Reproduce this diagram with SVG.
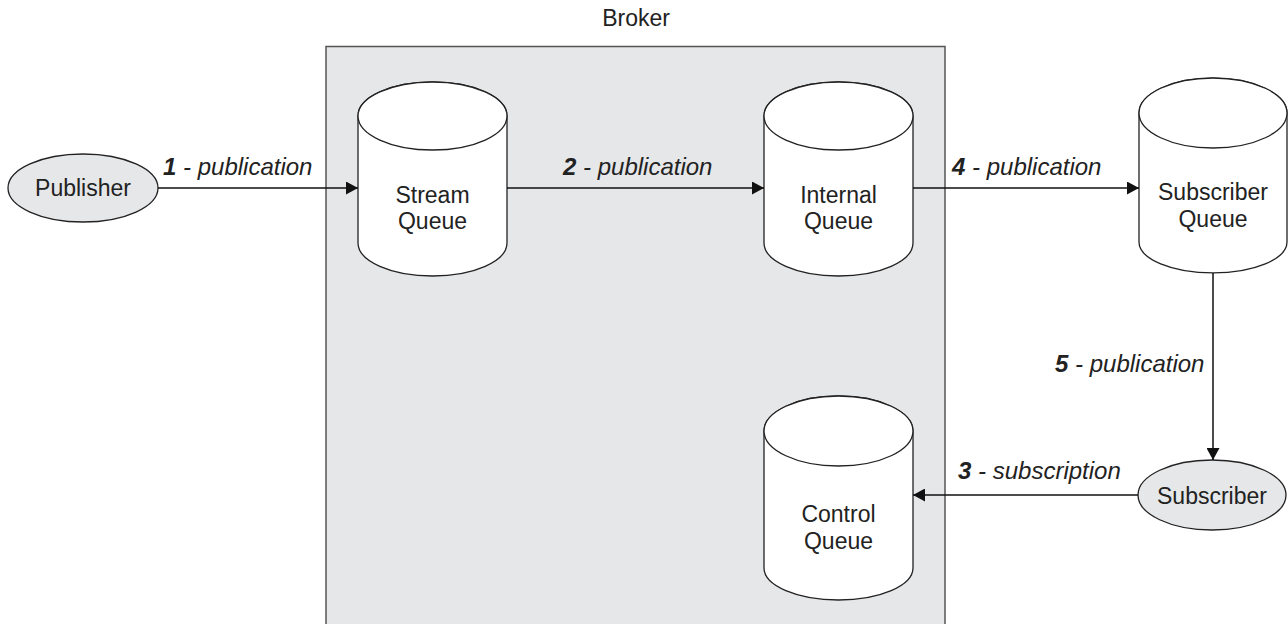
<svg xmlns="http://www.w3.org/2000/svg" width="1288" height="624" viewBox="0 0 1288 624">
<style>
text{font-family:"Liberation Sans",Arial,sans-serif;fill:#222;}
.n{font-size:23px;text-anchor:middle;}
.l{font-size:24px;font-style:italic;}
.l tspan.b{font-weight:bold;}
.cyl{fill:#fff;stroke:#222;stroke-width:1.3;}
.oval{fill:#e6e7e9;stroke:#222;stroke-width:1.3;}
.c{fill:none;stroke:#111;stroke-width:1.5;marker-end:url(#ah);}
</style>
<defs>
<marker id="ah" viewBox="0 0 12 13" refX="12" refY="6.5" markerWidth="12" markerHeight="13" markerUnits="userSpaceOnUse" orient="auto"><path d="M0,0 L12,6.5 L0,13 z" fill="#111"/></marker>
</defs>
<rect width="1288" height="624" fill="#fff"/>
<g id="broker">
<rect x="326" y="46.5" width="619" height="600" fill="#e6e7e9" stroke="#555" stroke-width="1.5"/>
<text class="n" x="636" y="26">Broker</text>
</g>
<g id="publisher">
<ellipse class="oval" cx="83" cy="188" rx="75" ry="34"/>
<text class="n" x="83" y="196">Publisher</text>
</g>
<g id="stream-queue">
<path class="cyl" d="M358,116 L358,243 A74.5,33 0 0 0 507,243 L507,116 A74.5,34 0 0 0 358,116 Z"/>
<ellipse class="cyl" cx="432.5" cy="116" rx="74.5" ry="34"/>
<text class="n" x="432.5" y="203">Stream</text>
<text class="n" x="432.5" y="229">Queue</text>
</g>
<g id="internal-queue">
<path class="cyl" d="M764,116 L764,243 A74.5,33 0 0 0 913,243 L913,116 A74.5,34 0 0 0 764,116 Z"/>
<ellipse class="cyl" cx="838.5" cy="116" rx="74.5" ry="34"/>
<text class="n" x="838.5" y="203">Internal</text>
<text class="n" x="838.5" y="229">Queue</text>
</g>
<g id="subscriber-queue">
<path class="cyl" d="M1139,113 L1139,242 A74,31 0 0 0 1287,242 L1287,113 A74,35 0 0 0 1139,113 Z"/>
<ellipse class="cyl" cx="1213" cy="113" rx="74" ry="35"/>
<text class="n" x="1213" y="200">Subscriber</text>
<text class="n" x="1213" y="227">Queue</text>
</g>
<g id="control-queue">
<path class="cyl" d="M764,431 L764,568 A74.5,32 0 0 0 913,568 L913,431 A74.5,35 0 0 0 764,431 Z"/>
<ellipse class="cyl" cx="838.5" cy="431" rx="74.5" ry="35"/>
<text class="n" x="838.5" y="522">Control</text>
<text class="n" x="838.5" y="549">Queue</text>
</g>
<g id="subscriber">
<ellipse class="oval" cx="1212" cy="495" rx="74" ry="35"/>
<text class="n" x="1212" y="504">Subscriber</text>
</g>
<g id="connectors">
<path class="c" d="M158,188 H358"/>
<path class="c" d="M507,188 H764"/>
<path class="c" d="M913,188 H1139"/>
<path class="c" d="M1213,273 V460"/>
<path class="c" d="M1138,495 H913"/>
<text class="l" x="163" y="175"><tspan class="b">1</tspan> - publication</text>
<text class="l" x="563" y="175"><tspan class="b">2</tspan> - publication</text>
<text class="l" x="952" y="175"><tspan class="b">4</tspan> - publication</text>
<text class="l" x="1055" y="372"><tspan class="b">5</tspan> - publication</text>
<text class="l" x="958" y="479"><tspan class="b">3</tspan> - subscription</text>
</g>
</svg>
